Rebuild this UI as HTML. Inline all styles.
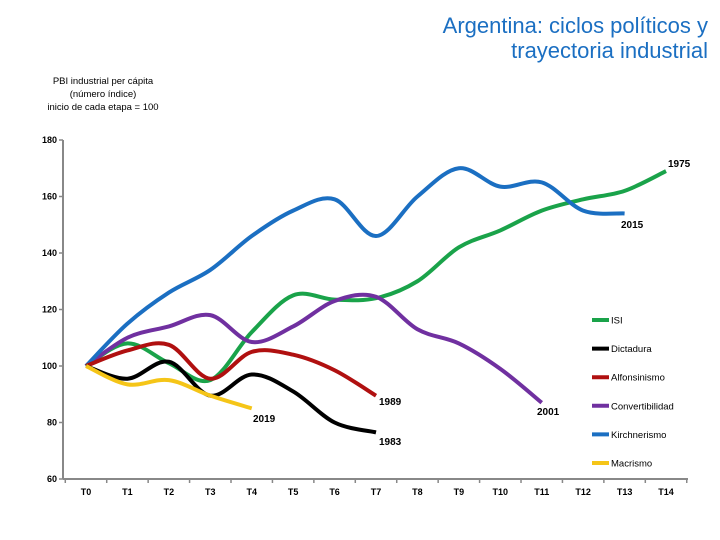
<!DOCTYPE html>
<html><head><meta charset="utf-8"><style>
body{margin:0;background:#fff;}
svg{display:block;font-family:"Liberation Sans",sans-serif;}
</style></head><body>
<svg id="chart" width="720" height="540">
<text x="708" y="33" text-anchor="end" font-size="22" fill="#1b6fc2">Argentina: ciclos políticos y</text>
<text x="708" y="58" text-anchor="end" font-size="22" fill="#1b6fc2">trayectoria industrial</text>
<text x="103" y="84" text-anchor="middle" font-size="9.5" fill="#000">PBI industrial per cápita</text>
<text x="103" y="97" text-anchor="middle" font-size="9.5" fill="#000">(número índice)</text>
<text x="103" y="110" text-anchor="middle" font-size="9.5" fill="#000">inicio de cada etapa = 100</text>
<g id="axes"></g>
<g id="series"></g>
<g id="legend"></g>
<g id="labels" font-size="10" font-weight="bold" fill="#000">
<text x="668" y="167">1975</text>
<text x="621" y="228">2015</text>
<text x="379" y="405">1989</text>
<text x="537" y="415">2001</text>
<text x="379" y="445">1983</text>
<text x="253" y="422">2019</text>
</g>
</svg>
<script>
const categories = ["T0","T1","T2","T3","T4","T5","T6","T7","T8","T9","T10","T11","T12","T13","T14"];
const yTicks = [60,80,100,120,140,160,180];
const seriesNames = ["ISI","Dictadura","Alfonsinismo","Convertibilidad","Kirchnerismo","Macrismo"];
const seriesColors = ["#1aa34a","#000000","#b01010","#7030a0","#1b6fc2","#f5c518"];
const isiValues = [100,108,101,95,112,125,123.5,124,130,142,148,155,159,162,169];
const dictaduraValues = [100,95.5,101.5,89.5,97,91,80,76.5];
const alfonsinismoValues = [100,105.5,107.5,95.5,105,104,98.5,89.5];
const convertibilidadValues = [100,110,114,118,108.5,114,123,124.5,113,108,99,87];
const kirchnerismoValues = [100,115,126,134,146,155,159,146,160,170,163.5,165,155,154];
const macrismoValues = [100,93.5,95,89.5,85];

const allSeries = [isiValues,dictaduraValues,alfonsinismoValues,convertibilidadValues,kirchnerismoValues,macrismoValues];
const NS="http://www.w3.org/2000/svg";
const x0=63,x1=688,yTop=140,yBot=479,vMin=60,vMax=180;
const step=41.43, first=86;
function xPos(i){return first+step*i;}
function yPos(v){return yBot-(v-vMin)/(vMax-vMin)*(yBot-yTop);}
function mk(tag,attrs,parent){const e=document.createElementNS(NS,tag);for(const k in attrs)e.setAttribute(k,attrs[k]);parent.appendChild(e);return e;}

const axes=document.getElementById('axes');
const ya=mk('line',{x1:x0,y1:yTop,x2:x0,y2:yBot,stroke:'#888','stroke-width':2},axes);


const xa=mk('line',{x1:x0,y1:yBot,x2:x1,y2:yBot,stroke:'#888','stroke-width':2},axes);


yTicks.forEach(t=>{
  const y=yPos(t);
  mk('line',{x1:x0-4,y1:y,x2:x0,y2:y,stroke:'#888','stroke-width':1.5},axes);
  const tx=mk('text',{x:x0-6,y:y+3,'text-anchor':'end','font-size':9,'font-weight':'bold'},axes);
  tx.textContent=t;
  
  
});
for(let i=0;i<=categories.length;i++){
  const x=first-step/2+step*i;
  mk('line',{x1:x,y1:yBot,x2:x,y2:yBot+4,stroke:'#888','stroke-width':1.5},axes);
}
categories.forEach((c,i)=>{
  const tx=mk('text',{x:xPos(i),y:yBot+16,'text-anchor':'middle','font-size':9,'font-weight':'bold'},axes);
  tx.textContent=c;
  
  
});

function smoothPath(vals){
  const p=vals.map((v,i)=>[xPos(i),yPos(v)]);
  let d=`M${p[0][0]},${p[0][1]}`;
  for(let i=0;i<p.length-1;i++){
    const a=p[i-1]||p[i],b=p[i],c=p[i+1],e=p[i+2]||c;
    const t=1/6;
    d+=` C${b[0]+(c[0]-a[0])*t},${b[1]+(c[1]-a[1])*t} ${c[0]-(e[0]-b[0])*t},${c[1]-(e[1]-b[1])*t} ${c[0]},${c[1]}`;
  }
  return d;
}
const sg=document.getElementById('series');
const order=[0,3,4,2,1,5];
order.forEach(k=>{
  const pth=mk('path',{d:smoothPath(allSeries[k]),fill:'none',stroke:seriesColors[k],'stroke-width':4,'stroke-linejoin':'round'},sg);
  
  
});

const lg=document.getElementById('legend');
seriesNames.forEach((n,i)=>{
  const y=320+i*28.6;
  const ln=mk('line',{x1:592,y1:y,x2:609,y2:y,stroke:seriesColors[i],'stroke-width':4},lg);
  
  
  const tx=mk('text',{x:611,y:y+3.5,'font-size':9.5},lg);
  tx.textContent=n;
  
  
});
</script>
</body></html>
